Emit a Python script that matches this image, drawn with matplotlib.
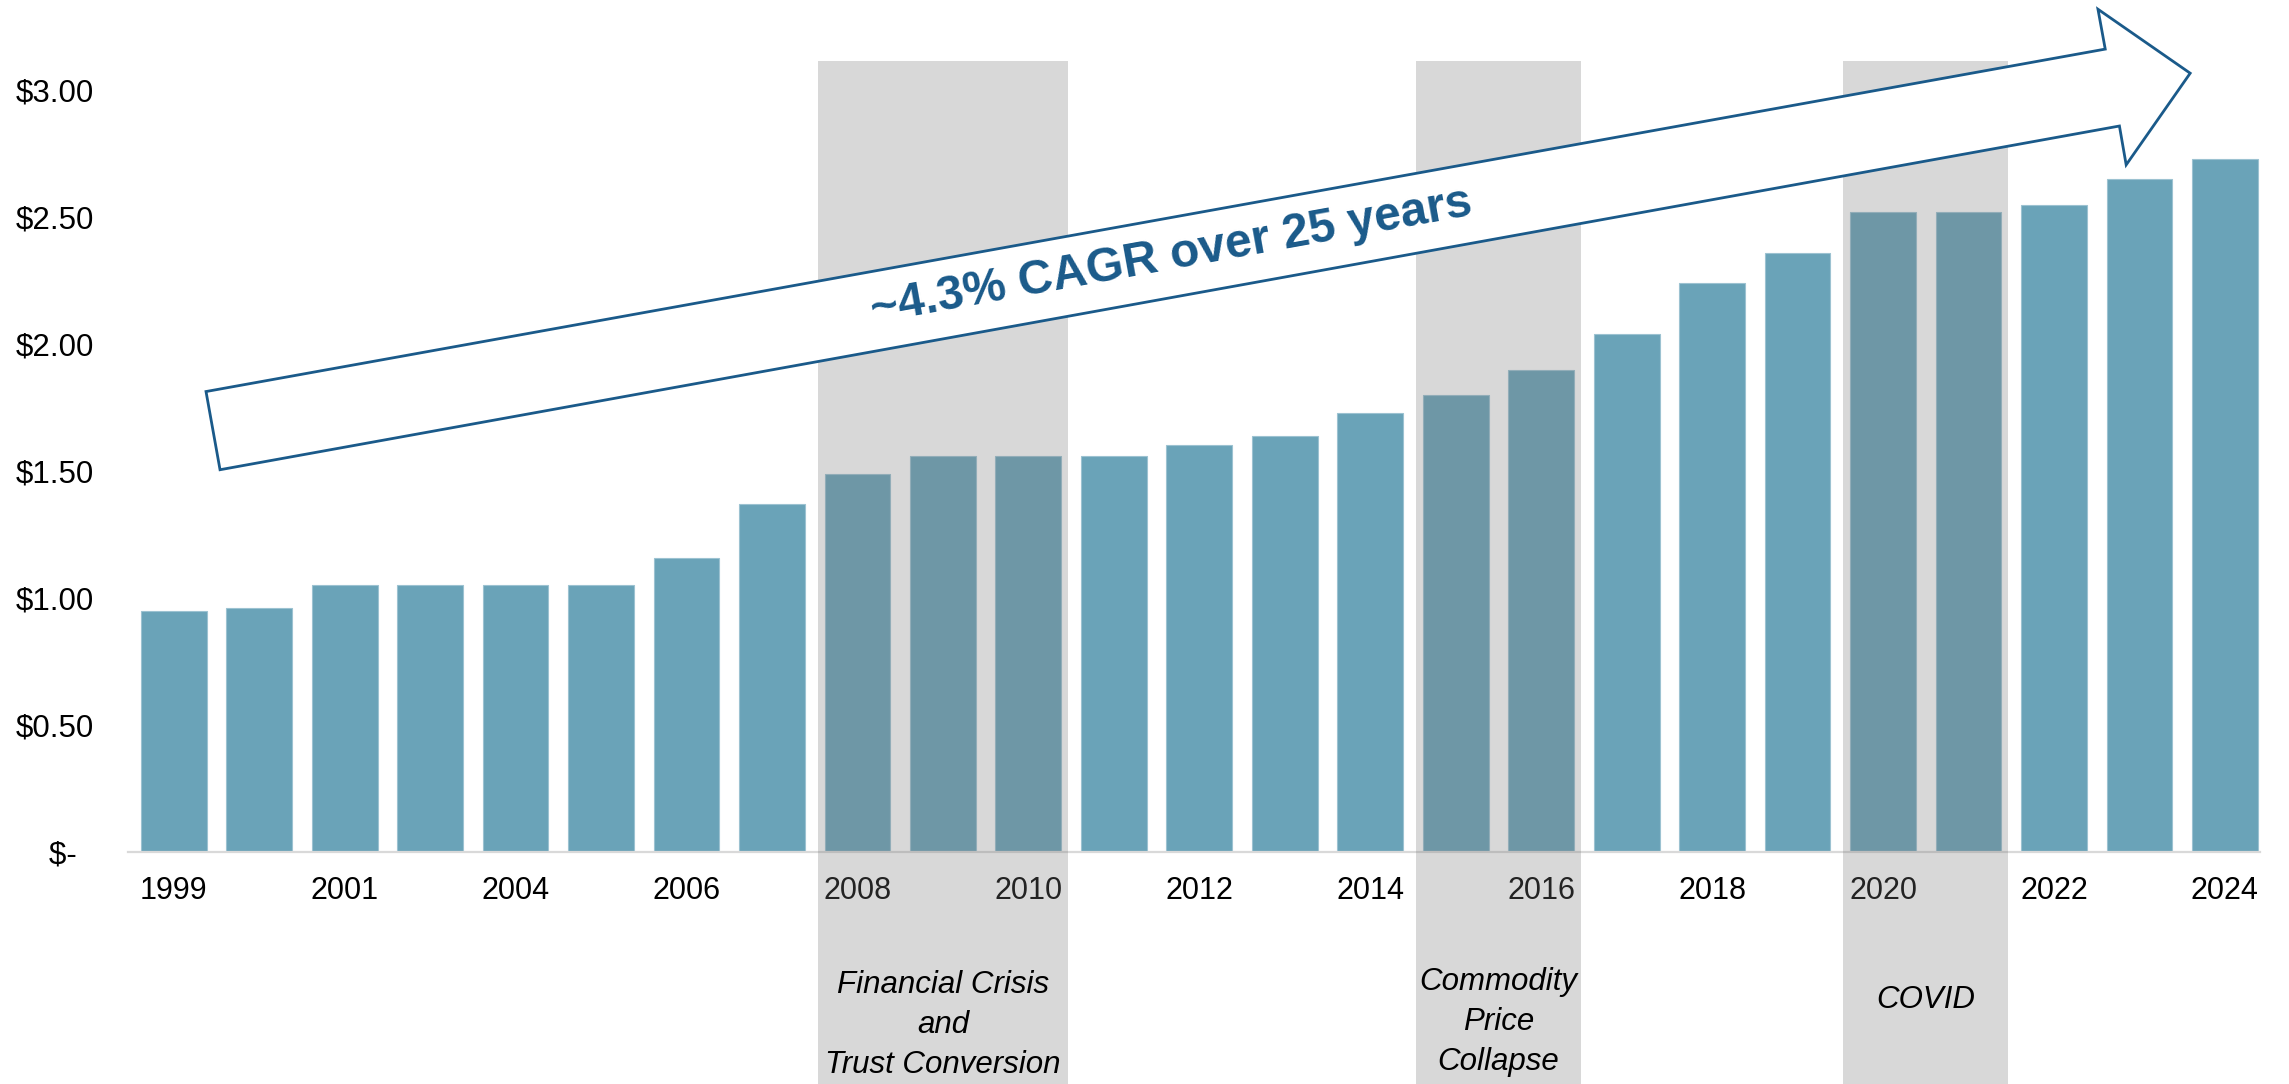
import matplotlib.pyplot as plt
from matplotlib.patches import Rectangle, Polygon
from matplotlib.transforms import blended_transform_factory

plt.rcParams['font.family'] = ['Liberation Sans', 'DejaVu Sans']

# Annual distribution per unit, 1999-2024
years = list(range(1999, 2025))
years.remove(2003)  # series skips 2003
values = [0.95, 0.96, 1.05, 1.05, 1.05, 1.05, 1.16, 1.37, 1.49, 1.56,
          1.56, 1.56, 1.605, 1.64, 1.73, 1.80, 1.90, 2.04, 2.24, 2.36,
          2.52, 2.52, 2.55, 2.65, 2.73]

# every other bar gets a year label
tick_idx = list(range(0, 25, 2))
tick_labels = ['1999', '2001', '2004', '2006', '2008', '2010', '2012',
               '2014', '2016', '2018', '2020', '2022', '2024']

y_ticks = [0, 0.5, 1.0, 1.5, 2.0, 2.5, 3.0]
y_labels = ['$-  ', '$0.50', '$1.00', '$1.50', '$2.00', '$2.50', '$3.00']

# shaded periods: (first bar, last bar, caption)
periods = [(8, 10, 'Financial Crisis\nand\nTrust Conversion'),
           (15, 16, 'Commodity\nPrice\nCollapse'),
           (20, 21, 'COVID')]

cagr_text = '~4.3% CAGR over 25 years'

BAR = '#6aa3b8'
NAVY = '#1a5a8a'

fig = plt.figure(figsize=(22.89, 10.84), dpi=100)
ax = fig.add_axes([0.0561, 0.214, 0.9312, 0.7297])

x = list(range(len(values)))
ax.bar(x, values, width=0.77, color=BAR, edgecolor='#9cc2d1', linewidth=0.8, zorder=1)

ax.set_xlim(-0.53, 24.41)
ax.set_ylim(0, 3.116)

ax.set_xticks(tick_idx)
ax.set_xticklabels(tick_labels, fontsize=22)
ax.set_yticks(y_ticks)
ax.set_yticklabels(y_labels, fontsize=22.5)
ax.tick_params(axis='x', length=0, pad=17)
ax.tick_params(axis='y', length=0, pad=25)

for side in ['top', 'right', 'left']:
    ax.spines[side].set_visible(False)
ax.spines['bottom'].set_color('#d9d9d9')
ax.spines['bottom'].set_linewidth(1.6)

# grey bands over the crisis years, running down past the axis
trans = blended_transform_factory(ax.transData, ax.transAxes)
for first, last, caption in periods:
    band = Rectangle((first - 0.465, -0.31), last - first + 0.93, 1.31,
                     transform=trans, facecolor='#7b7b7b', alpha=0.29,
                     edgecolor='none', clip_on=False, zorder=3)
    ax.add_patch(band)

ax.text(9, -0.681, periods[0][2], ha='center', va='center', fontsize=22.5,
        style='italic', linespacing=1.42, zorder=5)
ax.text(15.5, -0.669, periods[1][2], ha='center', va='center', fontsize=22.5,
        style='italic', linespacing=1.42, zorder=5)
ax.text(20.5, -0.583, periods[2][2], ha='center', va='center', fontsize=22.5,
        style='italic', zorder=5)

# growth arrow
arrow_pts = [(0.378, 1.814), (22.60, 3.163), (22.515, 3.320), (23.594, 3.068),
             (22.845, 2.707), (22.766, 2.860), (0.542, 1.506)]
arrow = Polygon(arrow_pts, closed=True, facecolor='white', edgecolor=NAVY,
                linewidth=2.0, clip_on=False, zorder=4, joinstyle='miter')
ax.add_patch(arrow)
ax.text(11.67, 2.345, cagr_text, ha='center', va='center', rotation=10.23,
        rotation_mode='anchor', fontsize=34.5, fontweight='bold', color=NAVY,
        zorder=5)

fig.savefig('out.png', dpi=100)
